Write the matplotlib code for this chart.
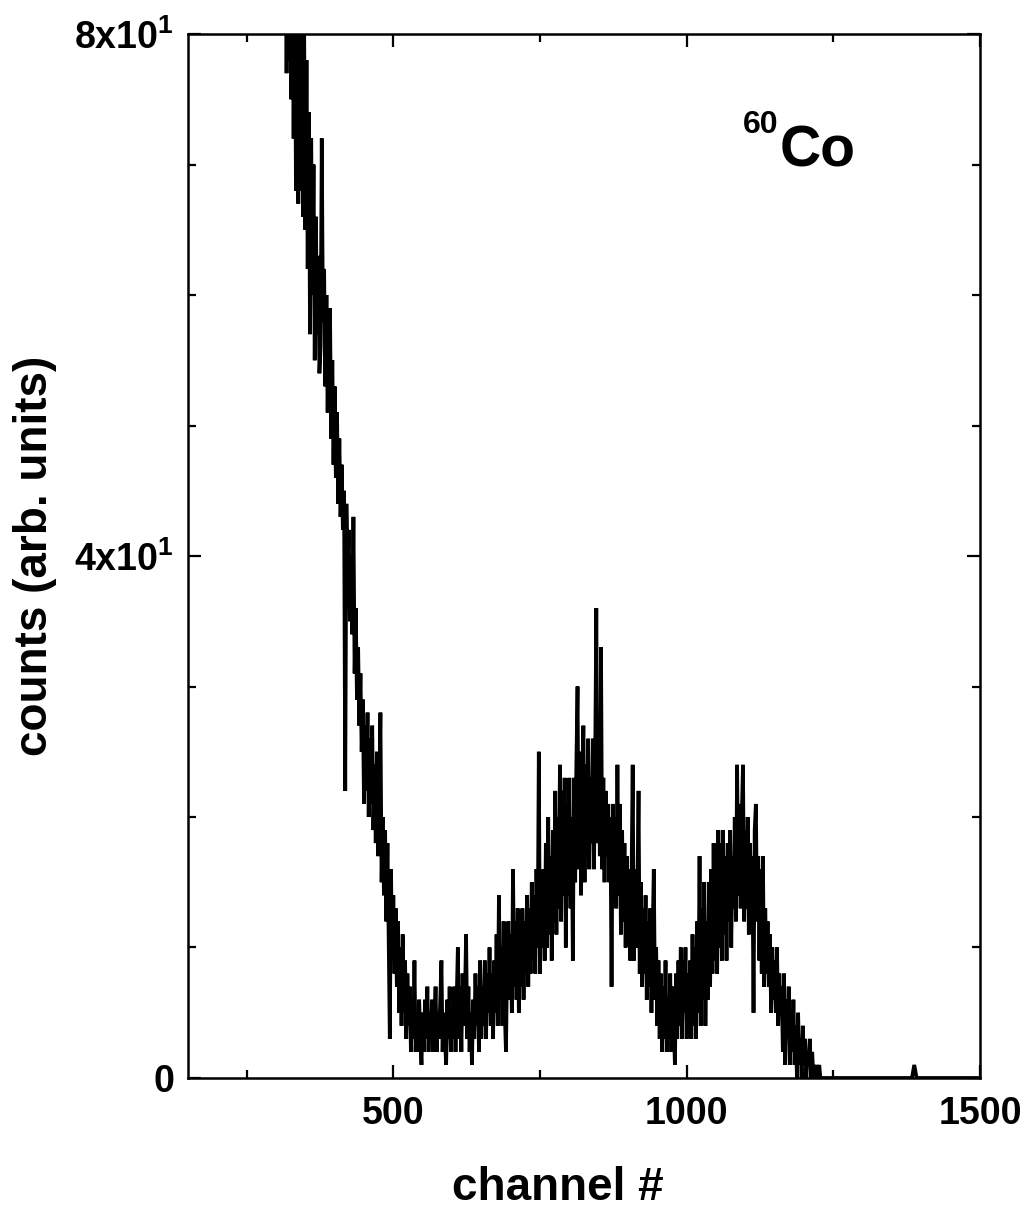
import numpy as np
import matplotlib
matplotlib.use("Agg")
import matplotlib.pyplot as plt

# 60Co spectrum, counts every 2 channels (312 .. 1230)
start_channel = 312
channel_step = 2
counts = [
    98, 80, 95, 77, 92, 78, 90, 75, 88, 72, 86, 68, 84, 67, 82, 68,
    82, 66, 80, 65, 78, 62, 74, 57, 72, 60, 70, 55, 66, 57, 63, 54,
    56, 72, 58, 62, 53, 60, 51, 57, 59, 49, 55, 47, 53, 46, 51, 44,
    49, 43, 47, 42, 45, 22, 44, 39, 42, 35, 40, 34, 43, 31, 36, 29,
    33, 27, 31, 25, 29, 21, 27, 22, 28, 20, 26, 21, 27, 19, 24, 18,
    25, 17, 22, 28, 15, 20, 14, 19, 12, 18, 11, 3, 16, 9, 14, 8,
    13, 7, 12, 5, 10, 4, 11, 5, 9, 3, 8, 4, 7, 2, 6, 3,
    9, 2, 5, 2, 6, 3, 1, 5, 2, 6, 3, 7, 2, 5, 3, 6,
    2, 4, 7, 2, 5, 3, 6, 9, 2, 5, 3, 1, 6, 3, 7, 2,
    5, 3, 7, 2, 6, 10, 3, 7, 2, 8, 4, 6, 11, 3, 7, 2,
    5, 1, 6, 3, 8, 4, 7, 2, 9, 3, 7, 4, 9, 3, 8, 5,
    10, 4, 8, 3, 9, 5, 11, 4, 14, 6, 10, 4, 12, 5, 2, 9,
    12, 6, 11, 5, 16, 7, 12, 6, 13, 5, 11, 7, 13, 6, 12, 8,
    14, 7, 13, 8, 15, 9, 14, 8, 16, 10, 25, 8, 15, 10, 16, 9,
    18, 10, 20, 11, 17, 9, 19, 12, 22, 11, 20, 13, 24, 12, 22, 14,
    23, 10, 21, 14, 23, 13, 20, 9, 23, 15, 24, 30, 16, 25, 14, 23,
    27, 15, 24, 17, 26, 16, 23, 18, 26, 16, 24, 36, 18, 25, 17, 33,
    16, 23, 15, 22, 17, 21, 15, 20, 7, 21, 14, 20, 13, 24, 14, 21,
    11, 19, 12, 18, 10, 17, 11, 16, 9, 15, 24, 9, 16, 10, 14, 22,
    8, 15, 7, 13, 8, 14, 6, 12, 7, 13, 5, 11, 16, 6, 10, 4,
    9, 3, 8, 2, 7, 3, 9, 2, 6, 3, 8, 2, 7, 4, 1, 8,
    3, 9, 4, 10, 3, 9, 5, 10, 3, 8, 4, 9, 3, 11, 4, 10,
    3, 12, 5, 17, 4, 13, 6, 15, 4, 12, 6, 15, 7, 16, 8, 18,
    9, 17, 8, 19, 10, 18, 9, 19, 11, 17, 9, 18, 12, 19, 10, 17,
    13, 20, 12, 24, 14, 21, 13, 20, 24, 12, 19, 13, 20, 11, 18, 12,
    17, 5, 19, 21, 12, 17, 9, 16, 8, 17, 7, 13, 8, 12, 7, 11,
    5, 10, 6, 9, 5, 10, 4, 8, 5, 7, 2, 8, 1, 6, 3, 7,
    1, 5, 2, 6, 1, 4, 0, 5, 1, 3, 0, 4, 1, 3, 0, 2,
    1, 3, 0, 2, 0, 1, 0, 1, 0, 1, 0, 0,
]
tail_channels = [1232, 1384, 1388, 1392, 1500]
tail_counts = [0, 0, 1, 0, 0]

channels = start_channel + channel_step * np.arange(len(counts))
x = np.concatenate([channels, tail_channels])
y = np.concatenate([counts, tail_counts])

plt.rcParams["font.family"] = ["Liberation Sans", "DejaVu Sans"]
plt.rcParams["font.weight"] = "bold"
plt.rcParams["mathtext.fontset"] = "custom"
plt.rcParams["mathtext.rm"] = "Liberation Sans:bold"
plt.rcParams["mathtext.bf"] = "Liberation Sans:bold"
plt.rcParams["mathtext.default"] = "rm"

fig = plt.figure(figsize=(10.24, 12.16), dpi=100)
ax = fig.add_axes([0.1836, 0.1135, 0.7734, 0.8585])

ax.plot(x, y, color="black", lw=2.7, solid_joinstyle="miter")

ax.set_xlim(150, 1500)
ax.set_ylim(0, 80)
ax.set_xticks([500, 1000, 1500])
ax.set_xticks([250, 750, 1250], minor=True)
ax.set_yticks([0, 40, 80])
ax.set_yticklabels(["0", r"4x10$^{1}$", r"8x10$^{1}$"])
ax.set_yticks(np.arange(10, 80, 10), minor=True)

ax.tick_params(which="both", direction="in", top=True, right=True, width=1.6)
ax.tick_params(which="major", length=9.5, labelsize=27)
ax.tick_params(which="minor", length=6)
ax.tick_params(axis="x", which="major", pad=13)
ax.tick_params(axis="y", which="major", pad=10)
for s in ax.spines.values():
    s.set_linewidth(1.8)

ax.set_xlabel("channel #", fontsize=33, fontweight="bold")
ax.set_ylabel("counts (arb. units)", fontsize=33, fontweight="bold")
ax.xaxis.set_label_coords(0.467, -0.084)
ax.yaxis.set_label_coords(-0.166, 0.5)

ax.text(0.747, 0.873, "Co", transform=ax.transAxes, fontsize=41,
        fontweight="bold", ha="left", va="baseline")
ax.text(0.746, 0.905, "60", transform=ax.transAxes, fontsize=23,
        fontweight="bold", ha="right", va="baseline")

fig.savefig("out.png", dpi=100)
